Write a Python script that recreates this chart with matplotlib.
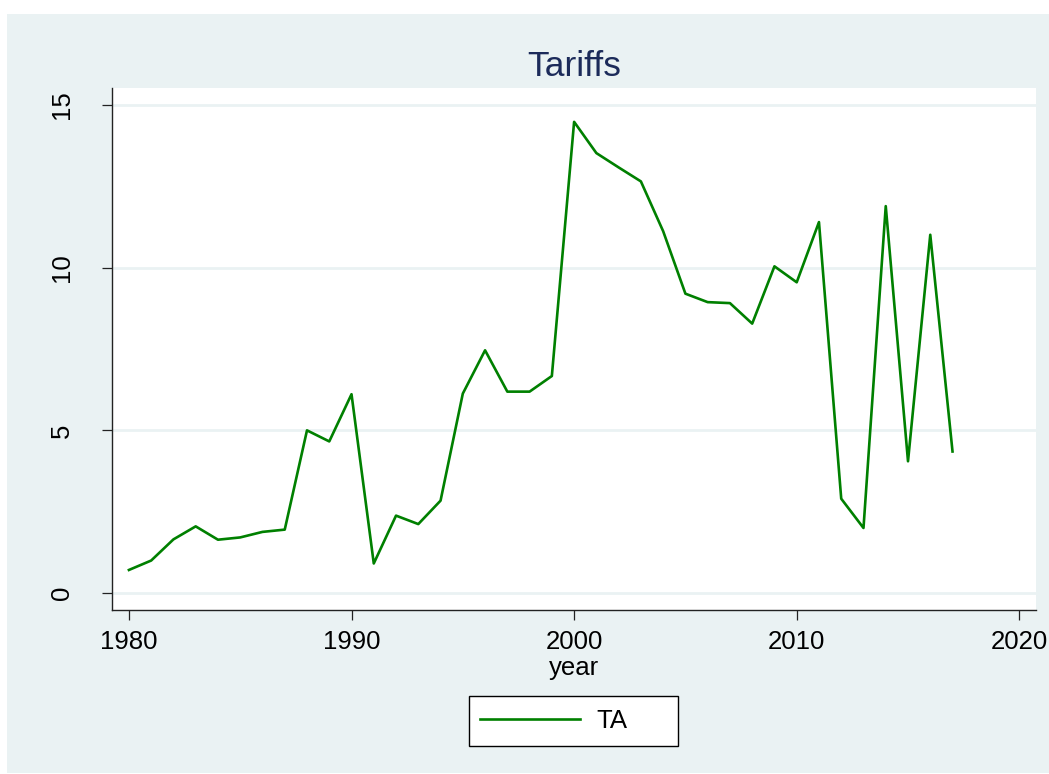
import matplotlib
matplotlib.use("Agg")
import matplotlib.pyplot as plt
from matplotlib.patches import Rectangle

years = list(range(1980, 2018))
ta = [0.71, 1.00, 1.65, 2.05, 1.64, 1.71, 1.88, 1.95, 5.00, 4.66,
      6.11, 0.91, 2.38, 2.12, 2.84, 6.13, 7.46, 6.19, 6.19, 6.67,
      14.48, 13.52, 13.08, 12.65, 11.12, 9.20, 8.94, 8.91, 8.28, 10.04,
      9.55, 11.40, 2.90, 2.00, 11.89, 4.05, 11.01, 4.35]
x_ticks = [1980, 1990, 2000, 2010, 2020]
y_ticks = [0, 5, 10, 15]
title = "Tariffs"
x_label = "year"
series_label = "TA"

W, H = 1049, 774
BG = "#EAF2F3"
plt.rcParams['font.family'] = ['Liberation Sans', 'DejaVu Sans']

fig = plt.figure(figsize=(W / 100, H / 100), dpi=100)
fig.patch.set_facecolor("white")
fig.patches.append(Rectangle((7 / W, 1 - 773 / H), (W - 7) / W, (773 - 14) / H,
                             transform=fig.transFigure, facecolor=BG,
                             edgecolor="none", zorder=-10))

ax = fig.add_axes([112 / W, 1 - 610 / H, (1036 - 112) / W, (610 - 88) / H])
ax.set_facecolor("white")
line, = ax.plot(years, ta, color="#008000", lw=1.9, label=series_label)

ax.set_xlim(1979.24, 2020.75)
ax.set_ylim(-0.52, 15.52)
ax.set_xticks(x_ticks)
ax.set_yticks(y_ticks)
ax.set_yticklabels([str(v) for v in y_ticks], rotation=90, va="center")
for y in y_ticks:
    ax.axhline(y, color=BG, lw=2.0, zorder=0)

for s in ["top", "right"]:
    ax.spines[s].set_visible(False)
for s in ["left", "bottom"]:
    ax.spines[s].set_color("#222222")
    ax.spines[s].set_linewidth(1.0)

ax.tick_params(axis="both", direction="out", length=7.2, width=0.9,
               color="#222222", labelsize=18.5, labelcolor="black")
ax.tick_params(axis="y", pad=20.5)
ax.tick_params(axis="x", pad=7.5)

ax.set_title(title, fontsize=25.5, color="#1C2B5A", pad=9)
ax.set_xlabel(x_label, fontsize=18.5, labelpad=1.0)

# legend frame
fig.patches.append(Rectangle((469 / W, 1 - 746 / H), (678 - 469) / W, (746 - 696) / H,
                             transform=fig.transFigure, facecolor="white",
                             edgecolor="black", lw=1.0, zorder=5))
leg = fig.legend(handles=[line], labels=[series_label], loc="center left",
                 bbox_to_anchor=(480 / W, 1 - 721 / H), frameon=False,
                 fontsize=18.5, handlelength=3.9, handletextpad=0.62,
                 borderpad=0, borderaxespad=0)
leg.set_zorder(6)

fig.savefig("out.png", dpi=100, facecolor="white")
